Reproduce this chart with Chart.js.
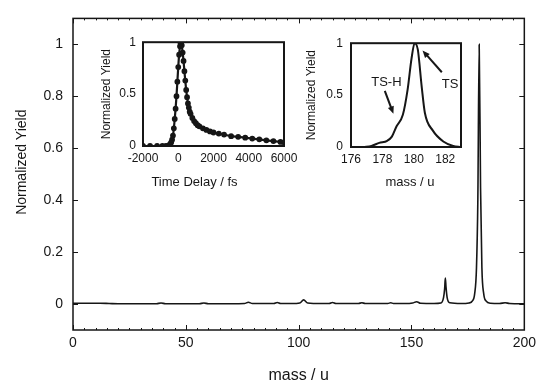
<!DOCTYPE html>
<html>
<head>
<meta charset="utf-8">
<script src="https://cdn.jsdelivr.net/npm/chart.js@4.4.0/dist/chart.umd.min.js"></script>
<style>
  body { margin: 0; background: #fff; }
  #wrap { position: relative; width: 541px; height: 384px; }
  canvas { position: absolute; }
</style>
</head>
<body>
<div id="wrap">
  <canvas id="mainChart" width="541" height="384" style="left:0;top:0"></canvas>
  <canvas id="delayChart" width="210" height="165" style="left:95px;top:28px"></canvas>
  <canvas id="peakChart" width="185" height="165" style="left:295px;top:28px"></canvas>
</div>
<script>
// mass spectrum (main plot)
const massValues = [
  0, 5, 12, 16, 20,
  30, 37, 39, 41, 50,
  56, 58, 60, 70, 76,
  77.7, 79.5, 86, 89, 90.5,
  92, 97, 100.5, 102.2, 104,
  110, 113.5, 115, 116.5, 123,
  126.5, 128, 129.5, 136, 139.5,
  140.8, 142, 147, 150.5, 152.3,
  154, 160, 163, 164.2, 164.7,
  165, 165.3, 165.8, 167, 172,
  175.5, 177, 178, 178.8, 179.4,
  180, 180.6, 181.2, 182, 183,
  185, 189, 191.5, 193.5, 200
];
const massYield = [
  0.003, 0.003, 0.003, 0.002, 0.001,
  0.001, 0.001, 0.004, 0.001, 0.001,
  0.001, 0.004, 0.001, 0.001, 0.002,
  0.007, 0.002, 0.002, 0.002, 0.006,
  0.002, 0.002, 0.004, 0.016, 0.004,
  0.002, 0.002, 0.006, 0.002, 0.002,
  0.002, 0.005, 0.002, 0.002, 0.002,
  0.005, 0.002, 0.002, 0.004, 0.009,
  0.003, 0.002, 0.004, 0.025, 0.06,
  0.1, 0.065, 0.025, 0.005, 0.002,
  0.004, 0.012, 0.04, 0.14, 0.4,
  1.0, 0.45, 0.14, 0.04, 0.012,
  0.003, 0.002, 0.005, 0.002, 0.001
];
const mainXTicks = [0, 50, 100, 150, 200];
const mainYTicks = [0, 0.2, 0.4, 0.6, 0.8, 1];

// pump-probe transient (left inset)
const delayFs = [
  -2000, -1600, -1200, -900, -700,
  -550, -450, -400, -350, -300,
  -250, -200, -150, -100, -50,
  0, 50, 100, 130, 160,
  200, 250, 300, 350, 400,
  450, 500, 550, 600, 650,
  700, 800, 900, 1000, 1100,
  1200, 1400, 1600, 1800, 2000,
  2300, 2600, 3000, 3400, 3800,
  4200, 4600, 5000, 5400, 5800,
  6000
];
const delayYield = [
  0, 0, 0, 0, 0,
  0.005, 0.02, 0.035, 0.06, 0.1,
  0.17, 0.26, 0.36, 0.48, 0.62,
  0.76, 0.88, 0.96, 0.99, 1,
  0.97, 0.9, 0.82, 0.72, 0.63,
  0.54, 0.47, 0.41, 0.37, 0.33,
  0.31, 0.27, 0.24, 0.22, 0.2,
  0.19, 0.17, 0.155, 0.14, 0.13,
  0.12, 0.11, 0.095, 0.088, 0.08,
  0.072, 0.064, 0.055, 0.047, 0.039,
  0.035
];
const delayXTicks = [-2000, 0, 2000, 4000, 6000];
const delayYTicks = [0, 0.5, 1];

// parent ion region (right inset)
const peakMass = [
  176.8, 177.3, 177.8, 178.3, 178.6,
  178.9, 179.3, 179.6, 179.85, 180.05,
  180.25, 180.5, 180.7, 181.2, 181.9,
  182.5, 183
];
const peakYield = [
  0, 0.01, 0.04, 0.06, 0.1,
  0.2, 0.31, 0.55, 0.85, 1,
  0.94, 0.58, 0.33, 0.16, 0.05,
  0.01, 0
];
const peakXTicks = [176, 178, 180, 182];
const peakYTicks = [0, 0.5, 1];

const ink = '#161616';
const fontFam = '"Liberation Sans", Arial, Helvetica, sans-serif';

// rahmen + nach innen zeigende ticks
const frameTicks = {
  id: 'frameTicks',
  afterDatasetsDraw(chart, args, opts) {
    const { ctx, chartArea: a } = chart;
    const x = chart.scales.x, y = chart.scales.y;
    ctx.save();
    ctx.strokeStyle = ink;
    ctx.lineWidth = opts.width;
    ctx.strokeRect(a.left, a.top, a.right - a.left, a.bottom - a.top);
    if (opts.majorLen) {
      ctx.lineWidth = 1;
      ctx.beginPath();
      (opts.minorX || []).forEach(v => {
        const px = Math.round(x.getPixelForValue(v)) + 0.5;
        ctx.moveTo(px, a.bottom); ctx.lineTo(px, a.bottom - opts.minorLen);
        ctx.moveTo(px, a.top); ctx.lineTo(px, a.top + opts.minorLen);
      });
      x.ticks.forEach(t => {
        const px = Math.round(x.getPixelForValue(t.value)) + 0.5;
        ctx.moveTo(px, a.bottom); ctx.lineTo(px, a.bottom - opts.majorLen);
        ctx.moveTo(px, a.top); ctx.lineTo(px, a.top + opts.majorLen);
      });
      y.ticks.forEach(t => {
        const py = Math.round(y.getPixelForValue(t.value)) + 0.5;
        ctx.moveTo(a.left, py); ctx.lineTo(a.left + opts.majorLen, py);
        ctx.moveTo(a.right, py); ctx.lineTo(a.right - opts.majorLen, py);
      });
      ctx.stroke();
    }
    ctx.restore();
  }
};

// achsentitel frei platziert
const axisTitles = {
  id: 'axisTitles',
  afterDraw(chart, args, o) {
    const { ctx, chartArea: a } = chart;
    ctx.save();
    ctx.fillStyle = ink;
    ctx.textAlign = 'center';
    ctx.textBaseline = 'middle';
    ctx.font = o.xFont;
    ctx.fillText(o.xText, (a.left + a.right) / 2 + o.xdx, a.bottom + o.xdy);
    ctx.translate(a.left - o.ydx, (a.top + a.bottom) / 2 + o.ydy);
    ctx.rotate(-Math.PI / 2);
    ctx.font = o.yFont;
    ctx.fillText(o.yText, 0, 0);
    ctx.restore();
  }
};

// pfeile mit beschriftung (datenkoordinaten)
const arrowNotes = {
  id: 'arrowNotes',
  afterDatasetsDraw(chart, args, o) {
    const { ctx } = chart;
    const x = chart.scales.x, y = chart.scales.y;
    ctx.save();
    ctx.fillStyle = ink;
    ctx.strokeStyle = ink;
    ctx.font = o.font;
    ctx.textAlign = 'center';
    ctx.textBaseline = 'middle';
    (o.items || []).forEach(it => {
      ctx.fillText(it.text, x.getPixelForValue(it.at[0]), y.getPixelForValue(it.at[1]));
      const x0 = x.getPixelForValue(it.from[0]), y0 = y.getPixelForValue(it.from[1]);
      const x1 = x.getPixelForValue(it.to[0]), y1 = y.getPixelForValue(it.to[1]);
      const ang = Math.atan2(y1 - y0, x1 - x0);
      ctx.lineWidth = 2;
      ctx.beginPath();
      ctx.moveTo(x0, y0);
      ctx.lineTo(x1 - 5 * Math.cos(ang), y1 - 5 * Math.sin(ang));
      ctx.stroke();
      ctx.beginPath();
      ctx.moveTo(x1, y1);
      ctx.lineTo(x1 - 8 * Math.cos(ang - 0.4), y1 - 8 * Math.sin(ang - 0.4));
      ctx.lineTo(x1 - 8 * Math.cos(ang + 0.4), y1 - 8 * Math.sin(ang + 0.4));
      ctx.closePath();
      ctx.fill();
    });
    ctx.restore();
  }
};

function toPoints(xs, ys) {
  return xs.map((v, i) => ({ x: v, y: ys[i] }));
}

function axisPair(cfg) {
  return {
    x: {
      type: 'linear', min: cfg.xMin, max: cfg.xMax,
      grid: { display: false, drawTicks: false }, border: { display: false },
      afterBuildTicks: s => { s.ticks = cfg.xTicks.map(v => ({ value: v })); },
      afterFit: s => { s.height = cfg.xHeight; },
      ticks: { color: ink, padding: cfg.xPad, maxRotation: 0, font: { family: fontFam, size: cfg.tickSize }, callback: v => String(v) }
    },
    y: {
      type: 'linear', min: cfg.yMin, max: cfg.yMax,
      grid: { display: false, drawTicks: false }, border: { display: false },
      afterBuildTicks: s => { s.ticks = cfg.yTicks.map(v => ({ value: v })); },
      afterFit: s => { s.width = cfg.yWidth; },
      ticks: { color: ink, padding: cfg.yPad, font: { family: fontFam, size: cfg.tickSize }, callback: v => String(v) }
    }
  };
}

const minorMass = [];
for (let m = 5; m < 200; m += 5) if (m % 50) minorMass.push(m);

new Chart(document.getElementById('mainChart'), {
  type: 'line',
  data: {
    datasets: [{
      data: toPoints(massValues, massYield),
      borderColor: ink, borderWidth: 1.6, pointRadius: 0,
      cubicInterpolationMode: 'monotone'
    }]
  },
  options: {
    responsive: false, animation: false, events: [],
    layout: { padding: { left: 0, right: 15, top: 12, bottom: 0 } },
    scales: axisPair({
      xMin: 0, xMax: 200, yMin: -0.1, yMax: 1.1,
      xTicks: mainXTicks, yTicks: mainYTicks,
      xHeight: 54, yWidth: 73, xPad: 5, yPad: 10, tickSize: 14
    }),
    plugins: {
      legend: { display: false }, tooltip: { enabled: false },
      frameTicks: { width: 1.5, majorLen: 5, minorLen: 2, minorX: minorMass },
      axisTitles: {
        xText: 'mass / u', xFont: '16px ' + fontFam, xdx: 0, xdy: 46,
        yText: 'Normalized Yield', yFont: '14px ' + fontFam, ydx: 51, ydy: -12
      }
    }
  },
  plugins: [frameTicks, axisTitles]
});

new Chart(document.getElementById('delayChart'), {
  type: 'line',
  data: {
    datasets: [{
      data: toPoints(delayFs, delayYield),
      borderColor: ink, borderWidth: 2.2, pointRadius: 1.8,
      pointBackgroundColor: ink, pointBorderColor: ink,
      cubicInterpolationMode: 'monotone'
    }]
  },
  options: {
    responsive: false, animation: false, events: [],
    layout: { padding: { left: 0, right: 21, top: 14, bottom: 0 } },
    scales: axisPair({
      xMin: -2000, xMax: 6000, yMin: 0, yMax: 1,
      xTicks: delayXTicks, yTicks: delayYTicks,
      xHeight: 47, yWidth: 48, xPad: 5, yPad: 7, tickSize: 12
    }),
    plugins: {
      legend: { display: false }, tooltip: { enabled: false },
      frameTicks: { width: 2, majorLen: 0 },
      axisTitles: {
        xText: 'Time Delay / fs', xFont: '13px ' + fontFam, xdx: -19, xdy: 36,
        yText: 'Normalized Yield', yFont: '12px ' + fontFam, ydx: 36, ydy: 0
      }
    }
  },
  plugins: [frameTicks, axisTitles]
});

new Chart(document.getElementById('peakChart'), {
  type: 'line',
  data: {
    datasets: [{
      data: toPoints(peakMass, peakYield),
      borderColor: ink, borderWidth: 2, pointRadius: 0,
      cubicInterpolationMode: 'monotone'
    }]
  },
  options: {
    responsive: false, animation: false, events: [],
    layout: { padding: { left: 0, right: 19, top: 15, bottom: 0 } },
    scales: axisPair({
      xMin: 176, xMax: 183, yMin: 0, yMax: 1,
      xTicks: peakXTicks, yTicks: peakYTicks,
      xHeight: 46, yWidth: 56, xPad: 5, yPad: 8, tickSize: 12
    }),
    plugins: {
      legend: { display: false }, tooltip: { enabled: false },
      frameTicks: { width: 2, majorLen: 0 },
      axisTitles: {
        xText: 'mass / u', xFont: '13px ' + fontFam, xdx: 4, xdy: 35,
        yText: 'Normalized Yield', yFont: '12px ' + fontFam, ydx: 39, ydy: 0
      },
      arrowNotes: {
        font: '13px ' + fontFam,
        items: [
          { text: 'TS-H', at: [178.25, 0.62], from: [178.15, 0.54], to: [178.7, 0.32] },
          { text: 'TS', at: [182.3, 0.6], from: [181.78, 0.72], to: [180.55, 0.93] }
        ]
      }
    }
  },
  plugins: [frameTicks, axisTitles, arrowNotes]
});
</script>
</body>
</html>
